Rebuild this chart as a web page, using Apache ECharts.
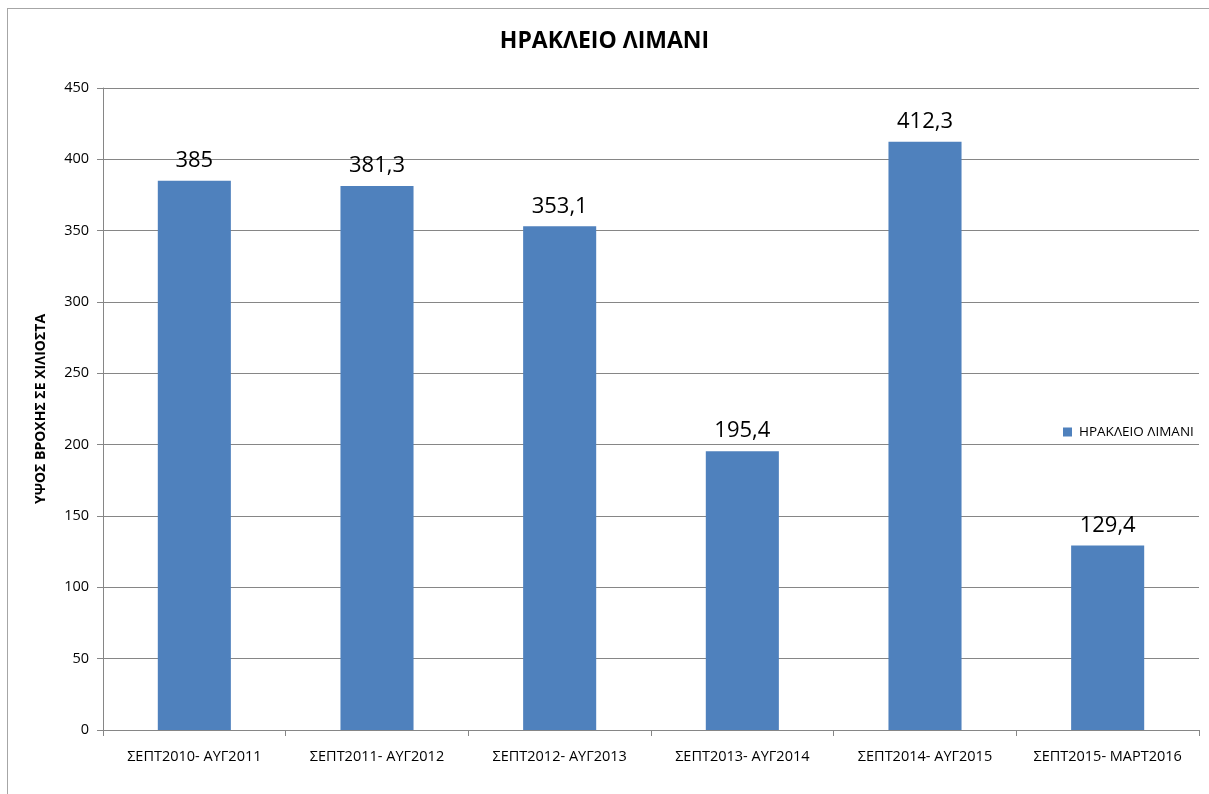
<!DOCTYPE html>
<html>
<head>
<meta charset="utf-8">
<script src="https://cdn.jsdelivr.net/npm/echarts@6/dist/echarts.min.js"></script>
<style>
  html, body { margin: 0; padding: 0; background: #fff; }
  #frame {
    position: absolute; left: 7px; top: 8px;
    width: 1220px; height: 800px;
    border: 1px solid #a6a6a6; box-sizing: border-box;
  }
  #chart { position: absolute; left: 0; top: 0; width: 1209px; height: 794px; }
</style>
</head>
<body>
<div id="frame"></div>
<div id="chart"></div>
<script>
const categories = ['ΣΕΠΤ2010- ΑΥΓ2011', 'ΣΕΠΤ2011- ΑΥΓ2012', 'ΣΕΠΤ2012- ΑΥΓ2013',
  'ΣΕΠΤ2013- ΑΥΓ2014', 'ΣΕΠΤ2014- ΑΥΓ2015', 'ΣΕΠΤ2015- ΜΑΡΤ2016']
const rain = [385, 381.3, 353.1, 195.4, 412.3, 129.4]
const seriesName = 'ΗΡΑΚΛΕΙΟ ΛΙΜΑΝΙ'

const font = '"Open Sans", "Noto Sans", sans-serif'
let myChart = echarts.init(document.getElementById('chart'))
myChart.setOption({
  animation: false,
  title: {
    text: 'ΗΡΑΚΛΕΙΟ ΛΙΜΑΝΙ',
    left: 'center',
    top: 25,
    textStyle: { fontFamily: font, fontSize: 23, fontWeight: 'bold', color: '#000' }
  },
  legend: {
    data: [seriesName],
    left: 1058,
    top: 420,
    itemWidth: 9,
    itemHeight: 9,
    icon: 'rect',
    textStyle: { fontFamily: font, fontSize: 13.5, color: '#000', padding: [0, 0, 0, 2] }
  },
  grid: { left: 103, right: 10, top: 88, bottom: 64 },
  xAxis: {
    type: 'category',
    data: categories,
    axisLine: { lineStyle: { color: '#868686' } },
    axisTick: { show: true, interval: 0, length: 6, lineStyle: { color: '#868686' } },
    axisLabel: { interval: 0, fontFamily: font, fontSize: 14.5, color: '#000', margin: 19 }
  },
  yAxis: {
    type: 'value',
    min: 0,
    max: 450,
    interval: 50,
    name: 'ΥΨΟΣ ΒΡΟΧΗΣ ΣΕ ΧΙΛΙΟΣΤΑ',
    nameLocation: 'middle',
    nameRotate: 90,
    nameGap: 55,
    nameTextStyle: { fontFamily: font, fontSize: 14, fontWeight: 'bold', color: '#000' },
    axisLine: { show: true, lineStyle: { color: '#868686' } },
    axisTick: { show: true, length: 6, lineStyle: { color: '#868686' } },
    splitLine: { lineStyle: { color: '#868686' } },
    axisLabel: { fontFamily: font, fontSize: 14.5, color: '#000', margin: 14 }
  },
  series: [
    {
      name: seriesName,
      type: 'bar',
      data: rain,
      barWidth: '40%',
      itemStyle: { color: '#4F81BD' },
      label: {
        show: true,
        position: 'top',
        distance: 9,
        fontFamily: font,
        fontSize: 22,
        color: '#000',
        formatter: p => String(p.value).replace('.', ',')
      }
    }
  ]
})
</script>
</body>
</html>
